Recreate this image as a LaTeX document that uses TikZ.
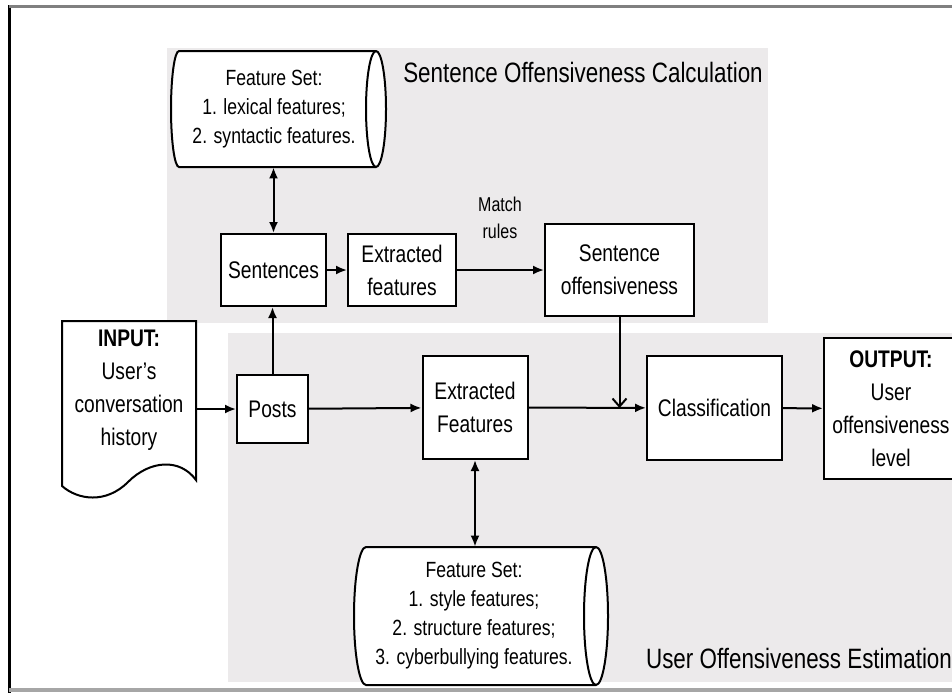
\documentclass[tikz,border=0pt]{standalone}
\usepackage{fontspec}
\setmainfont{Liberation Sans}[FakeStretch=0.8]
\usetikzlibrary{arrows.meta}
\definecolor{panelgray}{RGB}{236,234,235}
\tikzset{
  box/.style={draw,line width=1pt,fill=white,align=center,inner sep=1pt,font=\fontsize{12}{16.5}\selectfont},
  store/.style={align=center,inner sep=1pt,font=\fontsize{11}{14.5}\selectfont},
  outline/.style={line width=1pt,fill=white},
  flow/.style={line width=1pt,-{Latex[length=5.5pt,width=4.5pt]}},
  twoway/.style={line width=1pt,{Latex[length=5.5pt,width=4.5pt]}-{Latex[length=5.5pt,width=4.5pt]}},
}
\begin{document}
\begin{tikzpicture}[x=0.5pt,y=-0.5pt]
  \useasboundingbox (0,0) rectangle (952,693);
  \fill[panelgray] (167,48) rectangle (768,323);
  \fill[panelgray] (228,333) rectangle (952,682);
  \draw[line width=1.5pt] (9,5)--(9,693);
  \draw[gray,line width=1.5pt] (9,6)--(952,6);
  \draw[gray!70,line width=2pt] (9,690)--(952,690);
  \node[font=\fontsize{14}{16}\selectfont] (calcTitle) at (583,72) {Sentence Offensiveness Calculation};
  \node[font=\fontsize{14}{16}\selectfont] (estTitle) at (799,658) {User Offensiveness Estimation};
  \draw[outline] (179,51) -- (376,51) arc[start angle=90,end angle=-90,x radius=5pt,y radius=29pt]
    -- (179,167) arc[start angle=270,end angle=90,x radius=4pt,y radius=29pt] -- cycle;
  \draw[line width=1pt] (376,51) arc[start angle=90,end angle=270,x radius=5pt,y radius=29pt];
  \node[store,minimum width=104pt,minimum height=58pt] (lexSet) at (274,109) {Feature Set:\\1. lexical features;\\2. syntactic features.};
  \node[box,minimum width=52.5pt,minimum height=36pt] (sent) at (273.5,270) {Sentences};
  \node[box,minimum width=54pt,minimum height=36pt] (extTop) at (402,270) {Extracted\\features};
  \node[box,minimum width=74.5pt,minimum height=46pt] (sentOff) at (619.5,270) {Sentence\\offensiveness};
  \node[align=center,font=\fontsize{10}{13.5}\selectfont] (matchLbl) at (500,218) {Match\\rules};
  \draw[outline] (62,321) -- (196,321) -- (196,480)
    .. controls (180,458) and (150,460) .. (128,482)
    .. controls (106,504) and (78,500) .. (62,486) -- cycle;
  \node[align=center,minimum width=67pt,font=\fontsize{12}{16.5}\selectfont] (input) at (129,390) {\textbf{INPUT:}\\User's\\conversation\\history};
  \node[box,minimum width=35.5pt,minimum height=34pt] (posts) at (272.5,409) {Posts};
  \node[box,minimum width=52.5pt,minimum height=51.5pt] (extLow) at (475,407.5) {Extracted\\Features};
  \node[box,minimum width=67.5pt,minimum height=52pt] (classif) at (714.5,408) {Classification};
  \node[box,minimum width=67pt,minimum height=70.5pt] (output) at (891,408.5) {\textbf{OUTPUT:}\\User\\offensiveness\\level};
  \draw[outline] (366,547) -- (596,547) arc[start angle=90,end angle=-90,x radius=6pt,y radius=34.5pt]
    -- (366,685) arc[start angle=270,end angle=90,x radius=6pt,y radius=34.5pt] -- cycle;
  \draw[line width=1pt] (596,547) arc[start angle=90,end angle=270,x radius=6pt,y radius=34.5pt];
  \node[store,minimum width=118pt,minimum height=69pt] (styleSet) at (474,616) {Feature Set:\\1. style features;\\2. structure features;\\3. cyberbullying features.};
  \coordinate (merge) at (sentOff.south |- classif.west);
  \draw[twoway] (lexSet.south -| sent.north) -- (sent.north);
  \draw[flow] (sent) -- (extTop);
  \draw[flow] (extTop) -- (sentOff);
  \draw[flow] (posts.north) -- (posts.north |- sent.south);
  \draw[flow] (input.east |- posts.west) -- (posts.west);
  \draw[flow] (posts) -- (extLow);
  \draw[flow] (extLow) -- (classif);
  \draw[line width=1pt,-{Straight Barb[length=4pt,width=7pt]}] (sentOff.south) -- (merge);
  \draw[flow] (classif) -- (output);
  \draw[twoway] (extLow.south) -- (extLow.south |- styleSet.north);
\end{tikzpicture}
\end{document}
